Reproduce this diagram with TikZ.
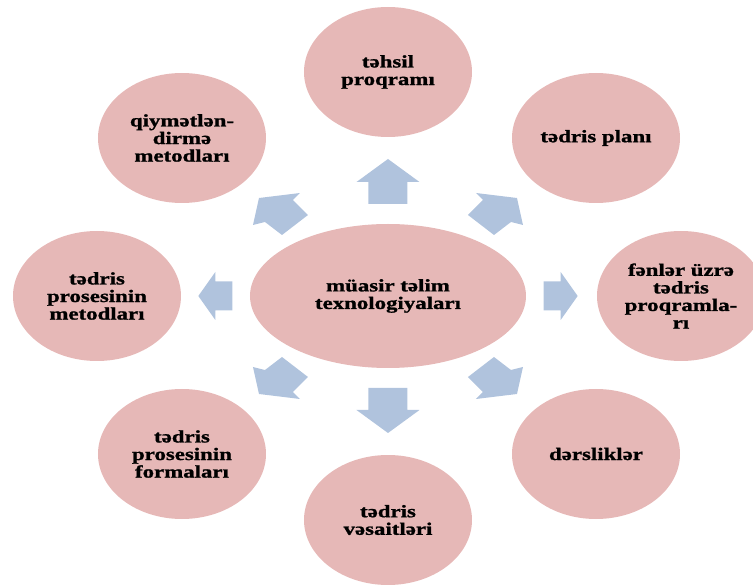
\documentclass[tikz,border=0pt]{standalone}
\usepackage{fontspec}
\newfontfamily\lblfont[FakeStretch=1.3,FakeBold=1.2]{Liberation Serif}
\usetikzlibrary{shapes.geometric}

\definecolor{circfill}{RGB}{230,184,183}
\definecolor{arrfill}{RGB}{176,195,221}

\tikzset{
	circ/.style={ellipse, fill=circfill, inner sep=0pt, align=center,
		minimum width=5.04cm, minimum height=3.9cm,
		font=\lblfont\bfseries\fontsize{15}{15}\selectfont},
	blockarr/.style={fill=arrfill},
}

\begin{document}
\begin{tikzpicture}
	\useasboundingbox (-11.64,-8.67) rectangle (10.95,8.88);

	\node [circ, minimum width=8.28cm, minimum height=4.32cm] (main) at (0,0) {müasir təlim\\texnologiyaları};
	\node [circ] (prog)   at (0,6.72)      {təhsil\\proqramı};
	\node [circ] (plan)   at (6.24,4.74)   {tədris planı};
	\node [circ] (fenn)   at (8.79,0)      {fənlər üzrə\\tədris\\proqramla-\\rı};
	\node [circ] (ders)   at (6.24,-4.74)  {dərsliklər};
	\node [circ] (vesait) at (0,-6.72)     {tədris\\vəsaitləri};
	\node [circ] (forma)  at (-6.18,-4.74) {tədris\\prosesinin\\formaları};
	\node [circ] (metod)  at (-8.73,0)     {tədris\\prosesinin\\metodları};
	\node [circ] (qiym)   at (-6.18,4.74)  {qiymətlən-\\dirmə\\metodları};

	% up and down
	\foreach \s in {1,-1}
		\fill [blockarr, yscale=\s] (-0.585,2.76) -- (0.585,2.76) -- (0.585,3.42) -- (0.945,3.42)
			-- (0,4.11) -- (-0.945,3.42) -- (-0.585,3.42) -- cycle;
	% right and left
	\foreach \s in {1,-1}
		\fill [blockarr, xscale=\s] (4.67,-0.435) -- (5.18,-0.435) -- (5.18,-0.72) -- (5.69,0)
			-- (5.18,0.72) -- (5.18,0.435) -- (4.67,0.435) -- cycle;
	% the four slanted ones
	\foreach \sx/\sy in {1/1,-1/1,1/-1,-1/-1}
		\fill [blockarr, xscale=\sx, yscale=\sy] (-2.40,2.43) -- (-2.85,2.88) -- (-2.64,3.09)
			-- (-3.87,2.94) -- (-4.05,2.13) -- (-3.69,2.22) -- (-3.18,1.83) -- cycle;
\end{tikzpicture}
\end{document}
